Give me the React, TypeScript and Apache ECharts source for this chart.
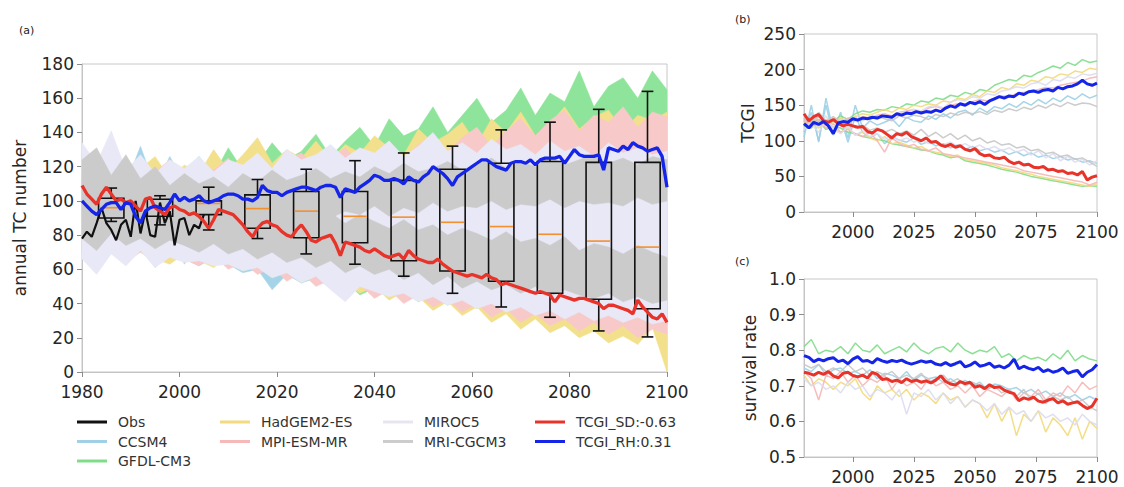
import React, { useEffect, useRef } from 'react';
import * as echarts from 'echarts';

const FONT = 'DejaVu Sans';
const RED = '#e8332a';
const BLUE = '#1424e8';

const YEARS_A = Array.from({ length: 121 }, (_, i) => 1980 + i);
const OBS_YEARS = Array.from({ length: 26 }, (_, i) => 1980 + i);
const BAND_YEARS = Array.from({ length: 41 }, (_, i) => 1980 + 3 * i);
const YEARS_2 = Array.from({ length: 61 }, (_, i) => 1980 + 2 * i);

const MODELS = ['CCSM4', 'GFDL-CM3', 'HadGEM2-ES', 'MPI-ESM-MR', 'MIROC5', 'MRI-CGCM3'];
const BAND_COLORS = ['#a5d4e8', '#8fe49b', '#f3e08c', '#f8c9c9', '#e8e8f6', '#cbcbcb'];
const LINE_COLORS = ['#9ccfe6', '#7fdc8a', '#f2da7a', '#f6b6b6', '#dcdcf0', '#c6c6c6'];

// ---- panel (a) ----
const OBS_A = [78, 82, 79, 87, 96, 87, 83, 77, 86, 89, 79, 100, 81, 94, 80, 79, 99, 87, 94, 74, 89, 90, 80, 86, 84, 92];
const RED_A = [
  109, 104, 101, 98, 104, 108, 104, 100, 101, 99,
  100, 97, 94, 101, 102, 96, 94, 92, 96, 97,
  95, 94, 92, 93, 91, 88, 84, 89, 95, 94,
  93, 92, 89, 86, 82, 79, 84, 87, 88, 86,
  85, 82, 80, 79, 83, 86, 82, 77, 76, 78,
  79, 80, 75, 68, 76, 75, 74, 73, 71, 70,
  72, 70, 68, 67, 68, 69, 66, 71, 68, 66,
  65, 64, 64, 66, 63, 61, 59, 58, 57, 56,
  57, 56, 55, 57, 55, 54, 51, 52, 51, 50,
  49, 48, 47, 46, 47, 46, 45, 41, 45, 44,
  43, 42, 43, 43, 42, 41, 40, 37, 39, 39,
  38, 37, 36, 34, 42, 38, 35, 32, 31, 34,
  29,
];
const BLUE_A = [
  100, 97, 94, 92, 95, 98, 99, 99, 95, 99,
  98, 91, 87, 94, 96, 97, 96, 95, 99, 104,
  100, 102, 100, 101, 103, 100, 99, 100, 101, 103,
  104, 104, 103, 101, 101, 100, 102, 109, 106, 105,
  105, 103, 105, 106, 107, 108, 108, 107, 106, 108,
  109, 109, 108, 102, 107, 106, 105, 108, 110, 112,
  115, 114, 112, 112, 113, 112, 110, 114, 112, 111,
  114, 116, 120, 118, 116, 113, 109, 114, 116, 118,
  120, 122, 124, 124, 122, 120, 119, 118, 122, 123,
  123, 122, 124, 121, 124, 125, 125, 125, 126, 122,
  126, 130, 127, 126, 126, 126, 127, 118, 131, 130,
  129, 132, 130, 134, 132, 131, 129, 130, 131, 126,
  108,
];

// model bands (every 3 years): RH-based band and SD-based band
const CCSM4_RH_HI = [128, 112, 140, 110, 132, 108, 126, 111, 124, 108, 119, 113, 121, 112, 118, 114, 122, 113, 117, 121, 115, 123, 116, 120, 126, 117, 122, 119, 127, 118, 124, 121, 128, 119, 125, 122, 129, 120, 127, 123, 126];
const CCSM4_RH_LO = [74, 64, 78, 66, 75, 70, 81, 63, 77, 80, 84, 79, 87, 82, 89, 85, 91, 87, 93, 88, 95, 90, 97, 93, 99, 94, 101, 96, 100, 98, 103, 97, 104, 100, 106, 99, 105, 102, 107, 101, 104];
const CCSM4_SD_HI = [124, 116, 132, 110, 126, 106, 118, 104, 112, 100, 107, 99, 103, 95, 99, 92, 96, 90, 93, 87, 90, 84, 88, 81, 85, 79, 83, 76, 80, 74, 77, 72, 75, 70, 73, 68, 71, 66, 69, 64, 66];
const CCSM4_SD_LO = [70, 63, 73, 67, 72, 61, 69, 66, 62, 67, 63, 58, 60, 48, 57, 52, 55, 49, 53, 47, 51, 46, 49, 44, 47, 43, 46, 41, 44, 40, 42, 38, 41, 37, 40, 36, 38, 35, 37, 34, 36];
const GFDL_RH_HI = [112, 120, 106, 118, 110, 124, 113, 117, 126, 115, 131, 118, 122, 134, 124, 129, 139, 126, 135, 143, 132, 148, 138, 142, 155, 140, 150, 160, 146, 153, 166, 150, 163, 158, 176, 155, 167, 172, 160, 176, 165];
const GFDL_RH_LO = [82, 78, 88, 84, 90, 86, 93, 89, 95, 92, 98, 95, 100, 97, 103, 100, 106, 102, 108, 105, 111, 107, 113, 110, 116, 112, 118, 115, 121, 117, 123, 120, 126, 122, 128, 124, 130, 126, 132, 128, 130];
const GFDL_SD_HI = [110, 104, 114, 100, 108, 98, 104, 95, 100, 92, 96, 89, 92, 86, 89, 83, 86, 80, 82, 77, 79, 74, 76, 71, 73, 69, 71, 66, 68, 64, 66, 62, 63, 60, 61, 58, 59, 56, 57, 54, 55];
const GFDL_SD_LO = [72, 67, 76, 69, 73, 66, 71, 64, 69, 62, 65, 59, 63, 55, 59, 52, 56, 49, 53, 45, 49, 43, 47, 41, 45, 39, 43, 37, 41, 35, 39, 33, 37, 31, 35, 29, 33, 28, 31, 26, 28];
const HAD_RH_HI = [118, 108, 124, 112, 119, 126, 113, 121, 116, 130, 118, 127, 137, 122, 130, 125, 135, 124, 133, 128, 138, 131, 127, 142, 134, 139, 146, 133, 148, 140, 152, 138, 145, 155, 142, 149, 153, 141, 150, 147, 152];
const HAD_RH_LO = [78, 72, 82, 76, 84, 80, 86, 83, 88, 86, 91, 88, 94, 91, 96, 93, 98, 95, 100, 97, 102, 99, 104, 101, 106, 103, 107, 104, 109, 106, 110, 107, 112, 108, 113, 110, 114, 111, 115, 112, 113];
const HAD_SD_HI = [112, 105, 116, 102, 110, 99, 106, 97, 103, 94, 99, 91, 95, 88, 92, 85, 89, 82, 85, 79, 82, 76, 79, 73, 76, 70, 73, 67, 70, 64, 67, 61, 64, 58, 61, 56, 58, 53, 55, 51, 50];
const HAD_SD_LO = [68, 62, 71, 64, 70, 66, 63, 69, 65, 61, 67, 60, 64, 56, 61, 53, 57, 49, 52, 46, 50, 42, 47, 44, 36, 41, 33, 38, 29, 34, 25, 31, 23, 27, 20, 24, 17, 21, 16, 26, 0];
const MPI_RH_HI = [126, 116, 133, 114, 122, 117, 124, 113, 120, 118, 125, 115, 126, 119, 124, 128, 120, 125, 131, 122, 128, 135, 125, 133, 139, 129, 137, 143, 132, 141, 148, 138, 147, 153, 141, 150, 146, 155, 143, 152, 149];
const MPI_RH_LO = [80, 75, 84, 79, 86, 82, 88, 85, 90, 88, 93, 90, 95, 93, 98, 95, 100, 98, 102, 100, 105, 102, 107, 104, 109, 106, 111, 108, 112, 110, 114, 111, 115, 113, 116, 114, 117, 115, 118, 116, 117];
const MPI_SD_HI = [122, 114, 126, 110, 118, 106, 112, 103, 107, 99, 103, 95, 99, 92, 95, 89, 92, 86, 89, 83, 86, 80, 82, 77, 79, 74, 76, 71, 73, 68, 70, 66, 67, 63, 65, 60, 62, 58, 60, 56, 57];
const MPI_SD_LO = [72, 65, 75, 67, 70, 64, 71, 66, 62, 68, 60, 64, 57, 61, 53, 58, 50, 54, 46, 51, 43, 48, 40, 45, 38, 42, 35, 40, 32, 37, 29, 34, 27, 31, 24, 29, 22, 27, 20, 25, 22];
const MIROC_RH_HI = [134, 122, 141, 118, 127, 116, 124, 119, 126, 117, 124, 121, 128, 119, 130, 124, 127, 133, 125, 131, 128, 135, 126, 132, 140, 129, 134, 128, 136, 130, 133, 127, 135, 129, 132, 126, 134, 128, 131, 127, 129];
const MIROC_RH_LO = [72, 66, 76, 70, 78, 73, 80, 76, 82, 78, 83, 80, 84, 81, 85, 82, 86, 83, 87, 84, 88, 84, 87, 85, 88, 84, 87, 83, 86, 82, 85, 81, 84, 80, 83, 79, 82, 78, 81, 77, 79];
const MIROC_SD_HI = [128, 120, 134, 116, 124, 112, 118, 108, 113, 104, 108, 101, 104, 98, 101, 96, 99, 94, 97, 92, 95, 91, 94, 90, 93, 89, 92, 88, 91, 87, 90, 86, 89, 85, 88, 84, 86, 82, 84, 80, 82];
const MIROC_SD_LO = [66, 57, 69, 62, 71, 61, 67, 64, 65, 62, 63, 59, 61, 55, 58, 52, 56, 48, 41, 50, 47, 44, 46, 41, 44, 39, 42, 37, 40, 35, 38, 33, 36, 31, 35, 30, 33, 29, 32, 28, 30];
const MRI_RH_HI = [124, 131, 115, 127, 113, 120, 109, 116, 110, 114, 108, 116, 111, 118, 112, 115, 119, 113, 117, 114, 120, 116, 122, 117, 119, 123, 118, 121, 125, 119, 123, 120, 126, 121, 124, 127, 122, 125, 121, 126, 124];
const MRI_RH_LO = [80, 75, 85, 77, 87, 81, 88, 83, 91, 85, 90, 87, 93, 88, 92, 89, 95, 90, 94, 92, 97, 91, 96, 93, 99, 94, 97, 96, 100, 95, 98, 97, 101, 96, 100, 98, 99, 97, 102, 98, 100];
const MRI_SD_HI = [117, 125, 111, 121, 107, 115, 103, 110, 104, 99, 106, 101, 95, 100, 97, 91, 96, 93, 87, 92, 88, 84, 89, 83, 86, 80, 84, 81, 77, 82, 76, 78, 74, 79, 71, 75, 73, 69, 74, 70, 67];
const MRI_SD_LO = [78, 71, 81, 74, 78, 72, 77, 74, 70, 75, 69, 72, 66, 70, 64, 67, 61, 65, 58, 62, 57, 60, 54, 58, 51, 56, 49, 53, 48, 51, 46, 50, 44, 48, 45, 43, 46, 41, 44, 40, 42];

const BANDS = [
  [CCSM4_RH_LO, CCSM4_RH_HI, CCSM4_SD_LO, CCSM4_SD_HI],
  [GFDL_RH_LO, GFDL_RH_HI, GFDL_SD_LO, GFDL_SD_HI],
  [HAD_RH_LO, HAD_RH_HI, HAD_SD_LO, HAD_SD_HI],
  [MPI_RH_LO, MPI_RH_HI, MPI_SD_LO, MPI_SD_HI],
  [MIROC_RH_LO, MIROC_RH_HI, MIROC_SD_LO, MIROC_SD_HI],
  [MRI_RH_LO, MRI_RH_HI, MRI_SD_LO, MRI_SD_HI],
];

// decadal box plots
const BOX_YEARS = [1986, 1996, 2006, 2016, 2026, 2036, 2046, 2056, 2066, 2076, 2086, 2096];
const BOX_LOW = [88, 86, 83, 78, 69, 63, 56, 46, 38, 32, 24, 20.5];
const BOX_Q1 = [90, 91, 92, 84, 78.5, 75.5, 65, 59, 53, 46, 42.5, 37];
const BOX_MED = [96, 96, 98.5, 95.5, 94, 91, 90.5, 87.5, 85, 80.5, 76.5, 73];
const BOX_Q3 = [101.5, 101, 100, 103.5, 105.5, 105.5, 112, 118.5, 122, 123, 122.5, 122.5];
const BOX_HIGH = [107.5, 103, 108, 112.5, 118.5, 123.5, 128, 132, 141.5, 146, 153.5, 164];

// ---- panel (b) TCGI ----
const RED_B = [138, 128, 134, 137, 128, 126, 130, 124, 121, 123, 121, 119, 120, 113, 111, 116, 114, 109, 104, 110, 108, 112, 106, 103, 100, 104, 98, 99, 94, 92, 95, 91, 93, 88, 86, 89, 82, 79, 80, 76, 75, 77, 71, 68, 70, 66, 67, 63, 62, 64, 59, 60, 57, 58, 54, 55, 52, 57, 45, 49, 51];
const BLUE_B = [124, 118, 126, 123, 127, 121, 110, 125, 127, 126, 131, 129, 132, 131, 133, 132, 135, 134, 133, 138, 136, 139, 138, 141, 139, 141, 140, 143, 141, 146, 149, 147, 152, 150, 154, 152, 155, 151, 156, 159, 162, 160, 163, 162, 167, 165, 169, 170, 168, 171, 172, 170, 175, 173, 176, 177, 180, 185, 180, 178, 181];
const B_CCSM4_RH = [105, 150, 98, 160, 112, 140, 104, 150, 118, 128, 122, 126, 131, 120, 133, 128, 126, 135, 130, 138, 132, 140, 143, 136, 146, 140, 148, 145, 152, 147, 155, 150, 158, 152, 160, 155, 163, 158, 166, 160, 164];
const B_CCSM4_SD = [112, 140, 100, 150, 108, 132, 98, 135, 112, 104, 110, 96, 106, 101, 98, 104, 95, 99, 93, 96, 90, 94, 88, 92, 86, 89, 84, 87, 81, 85, 79, 83, 77, 80, 75, 78, 73, 75, 70, 72, 68];
const B_GFDL_RH = [120, 126, 130, 122, 128, 135, 130, 138, 142, 140, 144, 143, 148, 146, 152, 150, 156, 154, 160, 158, 164, 162, 168, 165, 172, 170, 178, 182, 186, 184, 192, 190, 196, 200, 205, 202, 210, 206, 214, 210, 212];
const B_GFDL_SD = [122, 118, 128, 116, 120, 118, 112, 110, 106, 104, 102, 100, 96, 94, 92, 90, 87, 86, 82, 80, 76, 78, 72, 70, 68, 66, 63, 60, 58, 56, 53, 50, 48, 46, 44, 42, 40, 38, 36, 37, 36];
const B_HAD_RH = [124, 128, 120, 130, 126, 132, 128, 134, 138, 136, 140, 144, 140, 146, 144, 150, 148, 152, 150, 156, 154, 160, 158, 165, 162, 170, 168, 175, 172, 180, 178, 185, 183, 190, 188, 194, 192, 198, 196, 202, 200];
const B_HAD_SD = [126, 122, 118, 124, 116, 112, 118, 108, 112, 104, 100, 106, 96, 98, 94, 90, 92, 86, 84, 82, 78, 80, 74, 72, 70, 68, 66, 62, 60, 58, 55, 53, 50, 48, 46, 44, 42, 40, 38, 36, 40];
const B_MPI_RH = [130, 122, 134, 126, 130, 124, 132, 130, 134, 132, 136, 138, 135, 140, 142, 144, 140, 146, 148, 145, 150, 152, 150, 155, 158, 156, 160, 163, 162, 166, 168, 170, 172, 175, 174, 178, 180, 182, 184, 188, 190];
const B_MPI_SD = [128, 120, 130, 118, 124, 112, 116, 110, 106, 112, 100, 84, 104, 96, 92, 95, 88, 86, 90, 82, 80, 78, 76, 74, 72, 70, 68, 66, 64, 62, 58, 56, 54, 52, 50, 48, 46, 44, 42, 38, 42];
const B_MIROC_RH = [115, 128, 120, 135, 118, 130, 124, 132, 128, 134, 130, 136, 134, 140, 138, 144, 142, 148, 150, 146, 154, 158, 156, 162, 160, 166, 164, 170, 172, 176, 174, 180, 182, 178, 186, 184, 190, 188, 194, 192, 195];
const B_MIROC_SD = [118, 124, 112, 128, 116, 110, 120, 108, 114, 106, 110, 102, 108, 100, 104, 98, 102, 96, 100, 94, 98, 92, 96, 90, 94, 88, 92, 86, 90, 84, 88, 80, 86, 76, 82, 72, 78, 70, 74, 66, 72];
const B_MRI_RH = [132, 125, 140, 128, 134, 126, 130, 128, 132, 130, 134, 131, 128, 135, 132, 136, 134, 130, 137, 134, 139, 136, 140, 138, 141, 137, 143, 140, 145, 142, 147, 144, 150, 146, 152, 148, 154, 150, 153, 152, 148];
const B_MRI_SD = [130, 126, 136, 124, 128, 122, 126, 118, 122, 115, 118, 112, 116, 110, 114, 108, 116, 106, 112, 104, 110, 102, 108, 100, 104, 97, 100, 94, 96, 90, 92, 86, 88, 82, 84, 78, 80, 74, 76, 70, 64];
const B_LINES = [
  [B_CCSM4_RH, B_CCSM4_SD], [B_GFDL_RH, B_GFDL_SD], [B_HAD_RH, B_HAD_SD],
  [B_MPI_RH, B_MPI_SD], [B_MIROC_RH, B_MIROC_SD], [B_MRI_RH, B_MRI_SD],
];

// ---- panel (c) survival rate ----
const RED_C = [0.738, 0.735, 0.73, 0.738, 0.732, 0.74, 0.728, 0.722, 0.735, 0.738, 0.729, 0.725, 0.73, 0.722, 0.738, 0.732, 0.718, 0.72, 0.712, 0.716, 0.709, 0.72, 0.712, 0.716, 0.71, 0.714, 0.708, 0.716, 0.728, 0.712, 0.705, 0.702, 0.712, 0.706, 0.71, 0.696, 0.7, 0.692, 0.703, 0.695, 0.697, 0.688, 0.682, 0.678, 0.658, 0.666, 0.662, 0.668, 0.657, 0.654, 0.66, 0.664, 0.652, 0.658, 0.648, 0.652, 0.655, 0.645, 0.636, 0.643, 0.665];
const BLUE_C = [0.785, 0.78, 0.768, 0.775, 0.77, 0.776, 0.779, 0.768, 0.772, 0.762, 0.775, 0.782, 0.769, 0.771, 0.764, 0.776, 0.77, 0.766, 0.771, 0.768, 0.772, 0.765, 0.761, 0.765, 0.77, 0.766, 0.769, 0.761, 0.758, 0.765, 0.757, 0.762, 0.768, 0.753, 0.758, 0.767, 0.755, 0.758, 0.764, 0.752, 0.756, 0.75, 0.758, 0.775, 0.748, 0.755, 0.749, 0.745, 0.752, 0.74, 0.745, 0.738, 0.742, 0.75, 0.735, 0.74, 0.743, 0.725, 0.738, 0.745, 0.76];
const C_CCSM4 = [0.75, 0.74, 0.76, 0.73, 0.745, 0.75, 0.735, 0.74, 0.73, 0.745, 0.72, 0.735, 0.73, 0.72, 0.74, 0.715, 0.73, 0.72, 0.725, 0.71, 0.72, 0.705, 0.715, 0.7, 0.71, 0.69, 0.705, 0.7, 0.69, 0.695, 0.68, 0.69, 0.675, 0.685, 0.67, 0.68, 0.665, 0.675, 0.66, 0.67, 0.66];
const C_GFDL = [0.81, 0.83, 0.79, 0.8, 0.795, 0.81, 0.79, 0.82, 0.8, 0.795, 0.815, 0.79, 0.8, 0.81, 0.795, 0.82, 0.8, 0.79, 0.805, 0.81, 0.795, 0.82, 0.8, 0.79, 0.8, 0.795, 0.81, 0.78, 0.79, 0.77, 0.785, 0.775, 0.78, 0.77, 0.79, 0.775, 0.8, 0.77, 0.785, 0.775, 0.77];
const C_HAD = [0.73, 0.7, 0.72, 0.71, 0.69, 0.71, 0.7, 0.72, 0.68, 0.66, 0.7, 0.68, 0.69, 0.67, 0.69, 0.66, 0.68, 0.67, 0.65, 0.68, 0.66, 0.67, 0.64, 0.66, 0.65, 0.61, 0.65, 0.6, 0.64, 0.56, 0.62, 0.6, 0.63, 0.57, 0.61, 0.59, 0.56, 0.61, 0.55, 0.6, 0.58];
const C_MPI = [0.74, 0.72, 0.66, 0.73, 0.72, 0.74, 0.71, 0.73, 0.7, 0.72, 0.71, 0.73, 0.69, 0.72, 0.7, 0.71, 0.69, 0.72, 0.7, 0.71, 0.69, 0.7, 0.68, 0.7, 0.67, 0.69, 0.68, 0.67, 0.69, 0.66, 0.68, 0.67, 0.69, 0.66, 0.68, 0.67, 0.7, 0.68, 0.71, 0.69, 0.7];
const C_MIROC = [0.72, 0.7, 0.71, 0.69, 0.7, 0.68, 0.71, 0.69, 0.7, 0.67, 0.69, 0.68, 0.66, 0.69, 0.62, 0.68, 0.67, 0.69, 0.66, 0.68, 0.65, 0.67, 0.64, 0.66, 0.65, 0.63, 0.65, 0.62, 0.64, 0.62, 0.63, 0.6, 0.63, 0.61, 0.62, 0.6, 0.61, 0.59, 0.62, 0.6, 0.59];
const C_MRI = [0.76, 0.75, 0.76, 0.74, 0.75, 0.74, 0.76, 0.74, 0.75, 0.73, 0.74, 0.73, 0.74, 0.72, 0.73, 0.72, 0.735, 0.71, 0.72, 0.73, 0.71, 0.72, 0.7, 0.71, 0.7, 0.69, 0.7, 0.68, 0.69, 0.67, 0.69, 0.66, 0.68, 0.65, 0.67, 0.66, 0.67, 0.65, 0.66, 0.64, 0.63];
const C_LINES = [C_CCSM4, C_GFDL, C_HAD, C_MPI, C_MIROC, C_MRI];

const SD_NAME = 'TCGI_SD:-0.63';
const RH_NAME = 'TCGI_RH:0.31';

function bandSeries(name: string, color: string, lo: number[], hi: number[]) {
  return {
    type: 'custom',
    name,
    xAxisIndex: 0,
    yAxisIndex: 0,
    z: 1,
    silent: true,
    data: [[BAND_YEARS[0], lo[0]]],
    renderItem: (_p: any, api: any) => {
      const pts: number[][] = [];
      for (let i = 0; i < BAND_YEARS.length; i++) pts.push(api.coord([BAND_YEARS[i], hi[i]]));
      for (let i = BAND_YEARS.length - 1; i >= 0; i--) pts.push(api.coord([BAND_YEARS[i], lo[i]]));
      return { type: 'polygon', shape: { points: pts }, style: { fill: color, stroke: color, lineWidth: 0.5 } };
    },
  };
}

function lineSeries(name: string, color: string, xs: number[], ys: number[], idx: number, width: number, z: number, opacity = 1) {
  return {
    type: 'line',
    name,
    xAxisIndex: idx,
    yAxisIndex: idx,
    data: xs.map((x, i) => [x, ys[i]]),
    symbol: 'none',
    showSymbol: false,
    silent: true,
    z,
    itemStyle: { color },
    lineStyle: { color, width, opacity },
  };
}

const plain = (v: number) => String(v);

function xAxisCommon(idx: number) {
  return {
    type: 'value',
    gridIndex: idx,
    min: 1980,
    max: 2100,
    splitLine: { show: false },
    axisLine: { show: true, onZero: false, lineStyle: { color: '#c4c4c4', width: 1 } },
    axisTick: { show: true, length: 5, lineStyle: { color: '#8c8c8c' } },
    axisLabel: { fontSize: 17, color: '#262626', fontFamily: FONT, margin: 11, formatter: plain },
  };
}

function yAxisCommon(idx: number) {
  return {
    type: 'value',
    gridIndex: idx,
    splitLine: { show: false },
    axisLine: { show: true, lineStyle: { color: '#c4c4c4', width: 1 } },
    axisTick: { show: true, length: 5, lineStyle: { color: '#8c8c8c' } },
    axisLabel: { fontSize: 17, color: '#262626', fontFamily: FONT, margin: 8, formatter: plain },
    nameLocation: 'middle',
    nameTextStyle: { fontSize: 17, color: '#262626', fontFamily: FONT },
  };
}

export default function App() {
  const ref = useRef<HTMLDivElement>(null);
  useEffect(() => {
    if (!ref.current) return;
    const chart = echarts.init(ref.current, null, { renderer: 'svg' });
    const series: any[] = [];
    MODELS.forEach((m, k) => {
      const [rlo, rhi, slo, shi] = BANDS[k];
      series.push(bandSeries(m, BAND_COLORS[k], rlo, rhi));
      series.push(bandSeries(m, BAND_COLORS[k], slo, shi));
    });
    series.push(lineSeries('Obs', '#111111', OBS_YEARS, OBS_A, 0, 2.2, 3));
    series.push({
      type: 'custom',
      name: 'boxes',
      xAxisIndex: 0,
      yAxisIndex: 0,
      z: 4,
      silent: true,
      data: BOX_YEARS.map((y, i) => [y, BOX_LOW[i], BOX_Q1[i], BOX_MED[i], BOX_Q3[i], BOX_HIGH[i]]),
      encode: { x: 0, y: [1, 2, 3, 4, 5] },
      renderItem: (_p: any, api: any) => {
        const x = api.value(0);
        const half = 2.6;
        const cap = 1.2;
        const [xl, yLow] = api.coord([x - half, api.value(1)]);
        const [xr, yQ1] = api.coord([x + half, api.value(2)]);
        const [, yMed] = api.coord([x, api.value(3)]);
        const [xc, yQ3] = api.coord([x, api.value(4)]);
        const [, yHigh] = api.coord([x, api.value(5)]);
        const [cl] = api.coord([x - cap, 0]);
        const [cr] = api.coord([x + cap, 0]);
        const k = { stroke: '#111111', lineWidth: 1.6 };
        return {
          type: 'group',
          children: [
            { type: 'rect', shape: { x: xl, y: yQ3, width: xr - xl, height: yQ1 - yQ3 }, style: { fill: 'none', ...k } },
            { type: 'line', shape: { x1: xc, y1: yQ3, x2: xc, y2: yHigh }, style: k },
            { type: 'line', shape: { x1: xc, y1: yQ1, x2: xc, y2: yLow }, style: k },
            { type: 'line', shape: { x1: cl, y1: yHigh, x2: cr, y2: yHigh }, style: k },
            { type: 'line', shape: { x1: cl, y1: yLow, x2: cr, y2: yLow }, style: k },
            { type: 'line', shape: { x1: xl + 1, y1: yMed, x2: xr - 1, y2: yMed }, style: { stroke: '#f39030', lineWidth: 1.6 } },
          ],
        };
      },
    });
    series.push(lineSeries(SD_NAME, RED, YEARS_A, RED_A, 0, 3.3, 5));
    series.push(lineSeries(RH_NAME, BLUE, YEARS_A, BLUE_A, 0, 3.3, 5));

    MODELS.forEach((m, k) => {
      series.push(lineSeries(m, LINE_COLORS[k], BAND_YEARS, B_LINES[k][0], 1, 1.5, 2, 0.9));
      series.push(lineSeries(m, LINE_COLORS[k], BAND_YEARS, B_LINES[k][1], 1, 1.5, 2, 0.9));
    });
    series.push(lineSeries(SD_NAME, RED, YEARS_2, RED_B, 1, 3, 5));
    series.push(lineSeries(RH_NAME, BLUE, YEARS_2, BLUE_B, 1, 3, 5));

    MODELS.forEach((m, k) => {
      series.push(lineSeries(m, LINE_COLORS[k], BAND_YEARS, C_LINES[k], 2, 1.5, 2, 0.9));
    });
    series.push(lineSeries(SD_NAME, RED, YEARS_2, RED_C, 2, 3, 5));
    series.push(lineSeries(RH_NAME, BLUE, YEARS_2, BLUE_C, 2, 3, 5));

    const legendCommon = {
      orient: 'vertical',
      top: 409,
      itemWidth: 30,
      itemHeight: 3,
      itemGap: 3.5,
      icon: 'rect',
      selectedMode: false,
      textStyle: { fontSize: 14, color: '#333333', fontFamily: FONT, lineHeight: 16, padding: [0, 0, 0, 6] },
    };
    const li = (name: string, color: string) => ({ name, itemStyle: { color } });
    const LEG = ['#9fd0e6', '#80dc8a', '#f2da80', '#f6b8b8', '#e6e6f2', '#cccccc'];

    const ticksBC = [2000, 2025, 2050, 2075, 2100];

    chart.setOption({
      animation: false,
      backgroundColor: '#ffffff',
      title: [
        { text: '(a)', left: 14, top: 20, textStyle: { fontSize: 11, fontWeight: 'normal', color: '#222', fontFamily: FONT } },
        { text: '(b)', left: 730, top: 9, textStyle: { fontSize: 11, fontWeight: 'normal', color: '#222', fontFamily: FONT } },
        { text: '(c)', left: 730, top: 251, textStyle: { fontSize: 11, fontWeight: 'normal', color: '#222', fontFamily: FONT } },
      ],
      grid: [
        { left: 82, top: 64, width: 585, height: 308, show: true, borderColor: '#c8c8c8', borderWidth: 1, backgroundColor: 'transparent' },
        { left: 804, top: 34, width: 293, height: 178, show: true, borderColor: '#c8c8c8', borderWidth: 1, backgroundColor: 'transparent' },
        { left: 804, top: 279, width: 293, height: 178, show: true, borderColor: '#c8c8c8', borderWidth: 1, backgroundColor: 'transparent' },
      ],
      xAxis: [
        { ...xAxisCommon(0), interval: 20 },
        {
          ...xAxisCommon(1),
          axisTick: { show: true, length: 5, lineStyle: { color: '#8c8c8c' }, customValues: ticksBC },
          axisLabel: { fontSize: 17, color: '#262626', fontFamily: FONT, margin: 11, customValues: ticksBC, formatter: plain },
        },
        {
          ...xAxisCommon(2),
          axisTick: { show: true, length: 5, lineStyle: { color: '#8c8c8c' }, customValues: ticksBC },
          axisLabel: { fontSize: 17, color: '#262626', fontFamily: FONT, margin: 11, customValues: ticksBC, formatter: plain },
        },
      ],
      yAxis: [
        { ...yAxisCommon(0), min: 0, max: 180, interval: 20, name: 'annual TC number', nameGap: 54 },
        { ...yAxisCommon(1), min: 0, max: 250, interval: 50, name: 'TCGI', nameGap: 48 },
        {
          ...yAxisCommon(2),
          min: 0.5,
          max: 1.0,
          interval: 0.1,
          name: 'survival rate',
          nameGap: 46,
          axisLabel: { fontSize: 17, color: '#262626', fontFamily: FONT, margin: 8, formatter: (v: number) => v.toFixed(1) },
        },
      ],
      legend: [
        { ...legendCommon, left: 72, data: [li('Obs', '#111111'), li('CCSM4', LEG[0]), li('GFDL-CM3', LEG[1])] },
        { ...legendCommon, left: 215, data: [li('HadGEM2-ES', LEG[2]), li('MPI-ESM-MR', LEG[3])] },
        { ...legendCommon, left: 378, data: [li('MIROC5', LEG[4]), li('MRI-CGCM3', LEG[5])] },
        { ...legendCommon, left: 530, data: [li(SD_NAME, RED), li(RH_NAME, BLUE)] },
      ],
      series,
    });
    return () => chart.dispose();
  }, []);
  return <div ref={ref} style={{ position: 'absolute', left: 0, top: 0, width: 1124, height: 487, background: '#fff' }} />;
}
